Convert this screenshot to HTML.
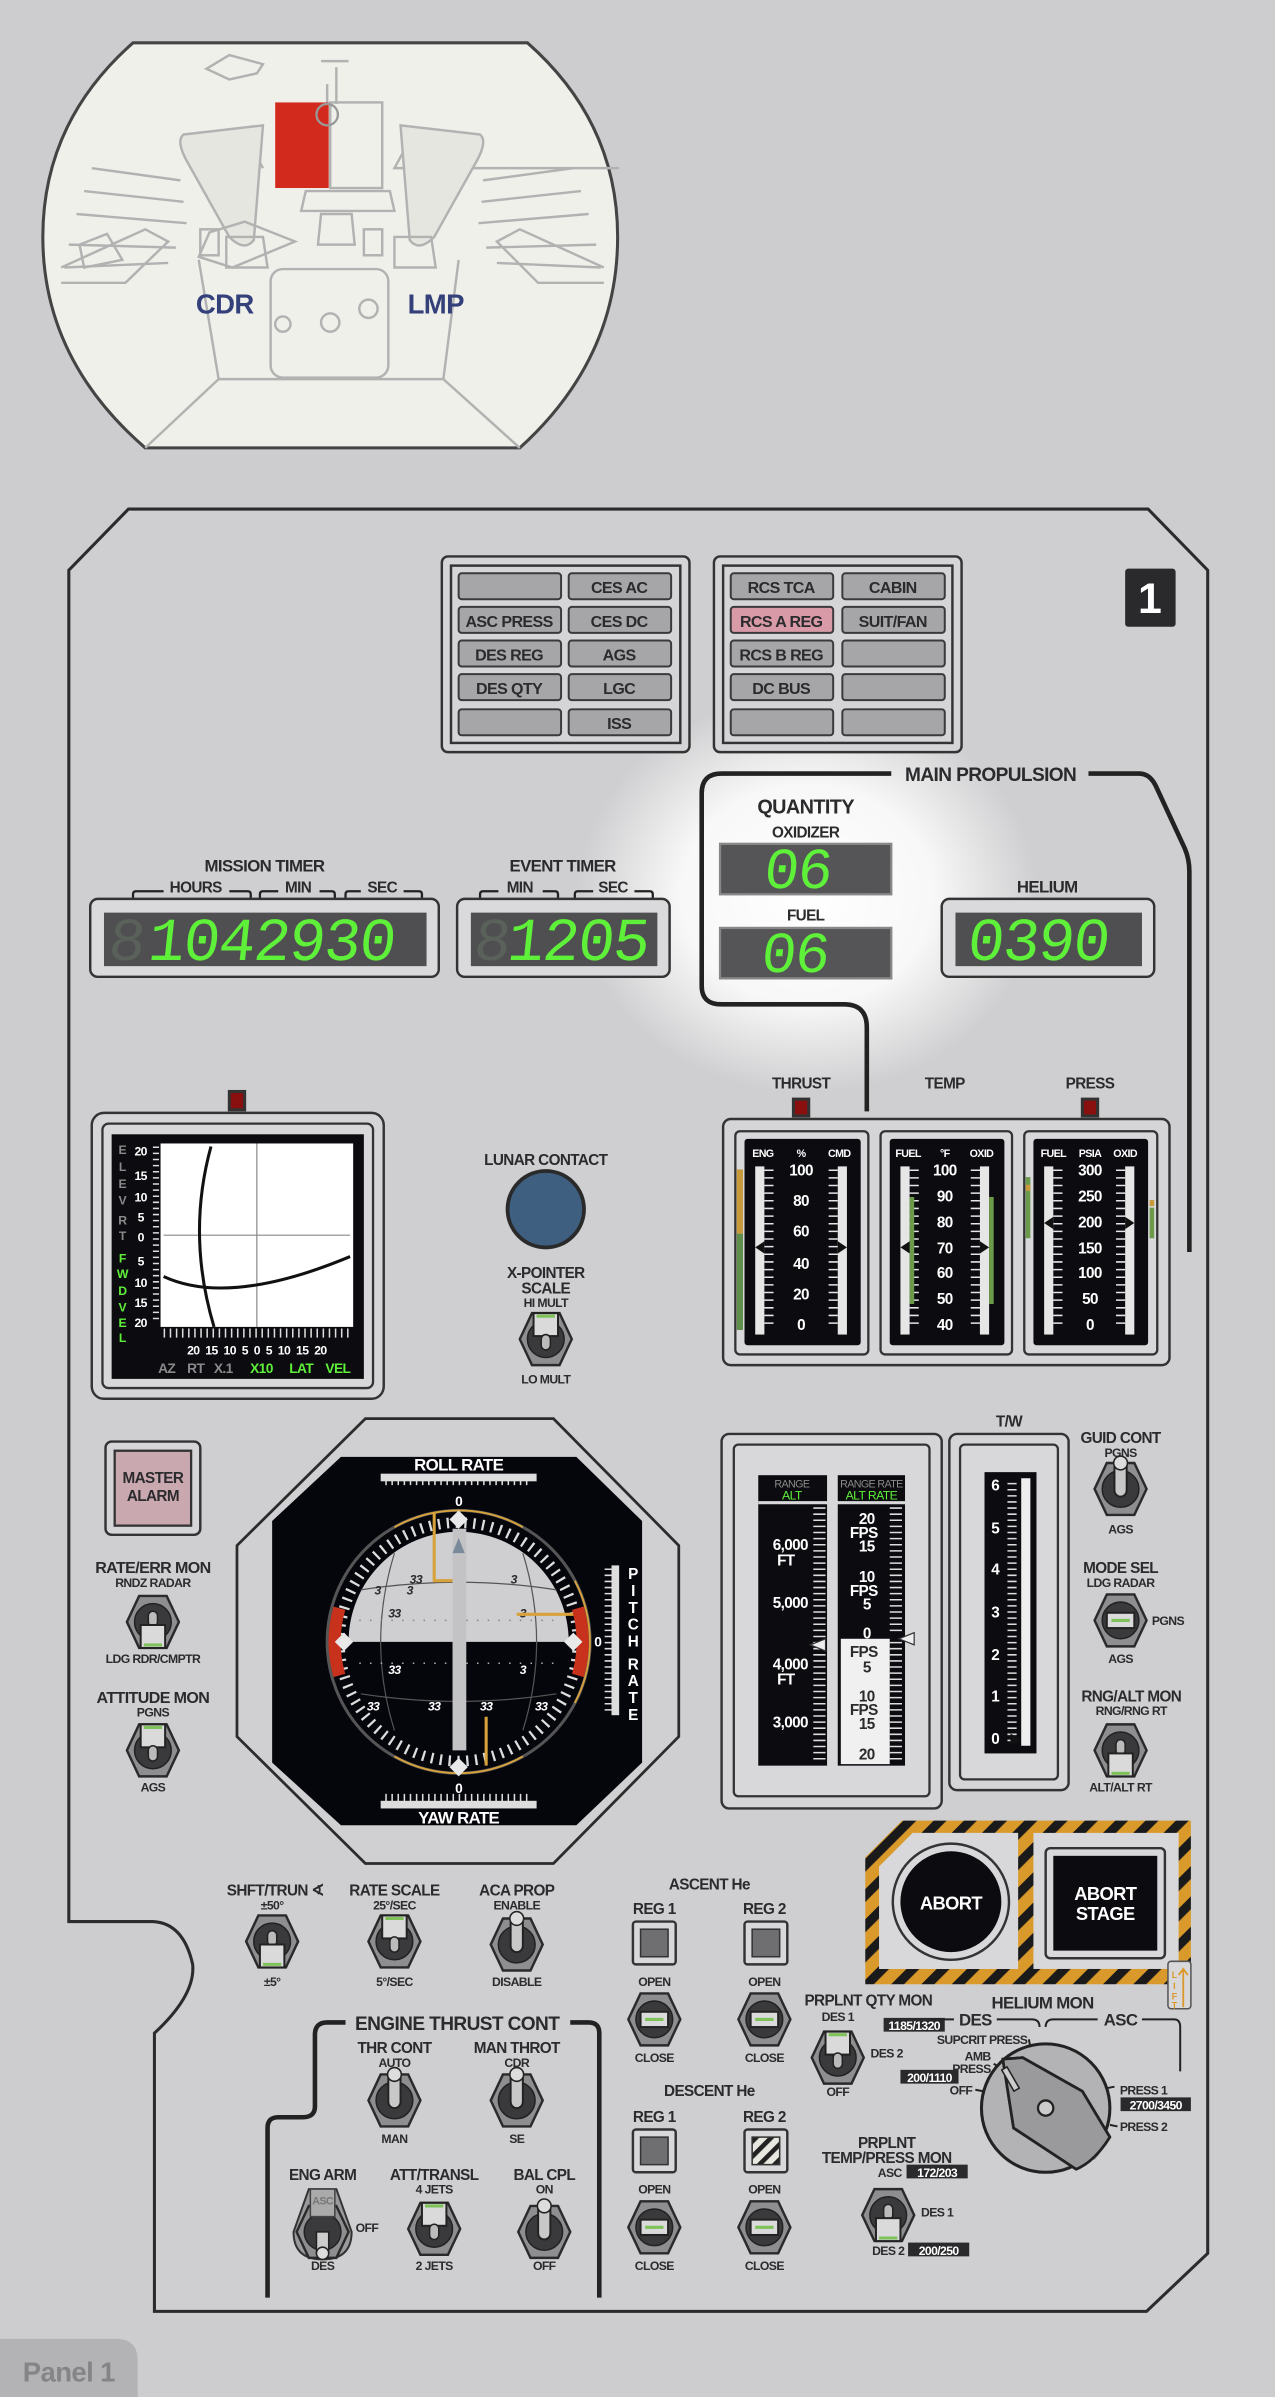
<!DOCTYPE html>
<html><head><meta charset="utf-8"><style>
html,body{margin:0;padding:0;background:#cdcdd0;}
svg{display:block}
text{font-family:"Liberation Sans Narrow","Liberation Sans",sans-serif;font-weight:bold;fill:#2b2b2d;text-anchor:middle;letter-spacing:-0.4px}
.w{fill:#fff}.g{fill:#5ff03a}.gr{fill:#8a8a8a}
.seg{font-family:"Liberation Mono",monospace;font-weight:normal;fill:#5ff03a;text-anchor:start;letter-spacing:-1px}
.btn{fill:#a6a6a8;stroke:#3a3a3a;stroke-width:1.3}
</style></head><body>
<svg width="1275" height="2397" viewBox="0 0 834 1568" xmlns="http://www.w3.org/2000/svg">
<defs>
<radialGradient id="glow"><stop offset="0" stop-color="#fff" stop-opacity="1"/><stop offset="0.55" stop-color="#fff" stop-opacity="0.85"/><stop offset="1" stop-color="#fff" stop-opacity="0"/></radialGradient>
<pattern id="haz" width="14" height="14" patternUnits="userSpaceOnUse" patternTransform="rotate(45)"><rect width="14" height="14" fill="#d99a2b"/><rect width="6" height="14" fill="#1a1a1a"/></pattern>
<pattern id="haz2" width="7" height="7" patternUnits="userSpaceOnUse" patternTransform="rotate(45)"><rect width="7" height="7" fill="#e8e8e0"/><rect width="3" height="7" fill="#222"/></pattern>
<g id="nut"><polygon points="-17,0 -9,-17 9,-17 17,0 9,17 -9,17" fill="#8e8e91" stroke="#2a2a2a" stroke-width="1.6"/><circle r="12" fill="#3a3a3c" stroke="#222"/></g>
<g id="tdn"><use href="#nut"/><rect x="-3" y="-7" width="6" height="10" rx="3" fill="#bbb" stroke="#222"/><rect x="-8" y="2" width="16" height="15" fill="#dadada" stroke="#222" stroke-width="1.3"/><line x1="-6" y1="15" x2="6" y2="15" stroke="#7fc25a" stroke-width="2"/></g>
<g id="tup"><use href="#nut"/><rect x="-8" y="-17" width="16" height="15" fill="#dadada" stroke="#222" stroke-width="1.3"/><line x1="-6" y1="-15" x2="6" y2="-15" stroke="#7fc25a" stroke-width="2"/><rect x="-3" y="-3" width="6" height="10" rx="3" fill="#bbb" stroke="#222"/></g>
<g id="tlv"><use href="#nut"/><rect x="-4" y="-19" width="8" height="24" rx="4" fill="#c8c8c8" stroke="#222" stroke-width="1.3"/><circle cy="-17" r="4.5" fill="#ddd" stroke="#222"/></g>
<g id="th"><use href="#nut"/><rect x="-9" y="-5" width="18" height="10" fill="#dadada" stroke="#222" stroke-width="1.3"/><line x1="-6" y1="0" x2="6" y2="0" stroke="#7fc25a" stroke-width="2"/></g>
</defs>
<rect width="834" height="1568" fill="#cdcdd0"/>

<!-- cockpit -->
<path d="M87,28 L345,28 Q404,80 404,155 Q404,235 340,293 L95,293 Q28,235 28,155 Q28,80 87,28 Z" fill="#f0f0eb" stroke="#444" stroke-width="2"/>
<g fill="none" stroke="#b2b2b2" stroke-width="1.6">
<path d="M95,293 L143,248 L290,248 L340,293"/>
<path d="M143,248 L130,170 M290,248 L300,170"/>
<path d="M270,88 L258,110 L405,110 M160,88 L172,110"/>
<path d="M55,125 L120,132 M60,110 L118,118 M50,140 L122,146 M45,160 L115,162 M42,175 L110,172"/>
<path d="M380,125 L315,132 M375,110 L316,118 M385,140 L313,146 M390,160 L318,162 M393,175 L325,172"/>
<path d="M120,88 L172,82 L166,157 Q160,165 150,155 L122,105 Q115,92 120,88 Z" fill="#e6e6e0"/>
<path d="M314,88 L262,82 L268,157 Q274,165 284,155 L312,105 Q319,92 314,88 Z" fill="#e6e6e0"/>
<path d="M137,152 L160,145 L193,158 L152,175 L130,168 Z M52,160 L70,153 L80,170 L55,175 Z"/>
<path d="M40,175 L95,150 L110,158 L82,185 L40,185"/>
<path d="M395,175 L340,150 L325,158 L352,185 L395,185"/>
<path d="M200,125 L255,125 L258,138 L197,138 Z M210,140 L230,140 L232,160 L208,160 Z"/>
<path d="M148,155 L172,155 L175,175 L148,175 Z M258,155 L282,155 L285,175 L258,175 Z"/>
<rect x="131" y="150" width="12" height="17"/><rect x="238" y="150" width="12" height="17"/>
<rect x="177" y="176" width="77" height="71" rx="8"/>
<circle cx="216" cy="211" r="6"/><circle cx="241" cy="202" r="6"/><circle cx="185" cy="212" r="5"/>
<path d="M135,45 L150,52 L168,48 L172,42 L150,36 Z"/>
<path d="M210,40 L228,40 M214,55 L214,68 M220,44 L220,68"/>
</g>
<rect x="180" y="67" width="35" height="56" fill="#d22a1c"/>
<rect x="216" y="67" width="34" height="56" fill="none" stroke="#b2b2b2" stroke-width="1.6"/>
<circle cx="214" cy="75" r="7" fill="none" stroke="#999" stroke-width="1.5"/>
<text x="147" y="205" style="font-family:'Liberation Sans',sans-serif;font-size:18px;fill:#34407a">CDR</text>
<text x="285" y="205" style="font-family:'Liberation Sans',sans-serif;font-size:18px;fill:#34407a">LMP</text>

<!-- panel outline -->
<path d="M45,373 L84,333 L751,333 L790,373 L790,1474 L750,1512 L101,1512 L101,1330 Q128,1305 126,1285 Q120,1258 100,1257 L45,1257 Z" fill="#cfcfd1" stroke="#2b2b2b" stroke-width="2"/>

<ellipse cx="528" cy="585" rx="150" ry="130" fill="url(#glow)"/>

<!-- caution panels -->
<g>
<rect x="289" y="364" width="162" height="128" rx="4" fill="#d5d5d7" stroke="#333" stroke-width="1.6"/>
<rect x="295" y="370" width="150" height="116" fill="none" stroke="#333" stroke-width="1.6"/>
<rect x="467" y="364" width="162" height="128" rx="4" fill="#d5d5d7" stroke="#333" stroke-width="1.6"/>
<rect x="473" y="370" width="150" height="116" fill="none" stroke="#333" stroke-width="1.6"/>
<g class="btn">
<rect x="300" y="375" width="67" height="17" rx="2"/><rect x="372" y="375" width="67" height="17" rx="2"/>
<rect x="300" y="397" width="67" height="17" rx="2"/><rect x="372" y="397" width="67" height="17" rx="2"/>
<rect x="300" y="419" width="67" height="17" rx="2"/><rect x="372" y="419" width="67" height="17" rx="2"/>
<rect x="300" y="441" width="67" height="17" rx="2"/><rect x="372" y="441" width="67" height="17" rx="2"/>
<rect x="300" y="464" width="67" height="17" rx="2"/><rect x="372" y="464" width="67" height="17" rx="2"/>
<rect x="478" y="375" width="67" height="17" rx="2"/><rect x="551" y="375" width="67" height="17" rx="2"/>
<rect x="478" y="397" width="67" height="17" rx="2" fill="#d99aa8"/><rect x="551" y="397" width="67" height="17" rx="2"/>
<rect x="478" y="419" width="67" height="17" rx="2"/><rect x="551" y="419" width="67" height="17" rx="2"/>
<rect x="478" y="441" width="67" height="17" rx="2"/><rect x="551" y="441" width="67" height="17" rx="2"/>
<rect x="478" y="464" width="67" height="17" rx="2"/><rect x="551" y="464" width="67" height="17" rx="2"/>
</g>
<g style="font-size:10.5px">
<text x="405" y="388">CES AC</text><text x="333" y="410">ASC PRESS</text><text x="405" y="410">CES DC</text>
<text x="333" y="432">DES REG</text><text x="405" y="432">AGS</text><text x="333" y="454">DES QTY</text><text x="405" y="454">LGC</text><text x="405" y="477">ISS</text>
<text x="511" y="388">RCS TCA</text><text x="584" y="388">CABIN</text><text x="511" y="410">RCS A REG</text><text x="584" y="410">SUIT/FAN</text>
<text x="511" y="432">RCS B REG</text><text x="511" y="454">DC BUS</text>
</g>
</g>
<rect x="736" y="372" width="33" height="38" rx="2" fill="#2a2a2c"/>
<text x="752" y="401" class="w" style="font-size:28px;fill:#fff">1</text>

<!-- main propulsion line -->
<path d="M583,506 L472,506 Q459,506 459,519 L459,645 Q459,657 472,657 L552,657 Q567,657 567,672 L567,727" fill="none" stroke="#222" stroke-width="3"/>
<path d="M712,506 L745,506 Q752,506 756,514 L775,555 Q778,562 778,570 L778,819" fill="none" stroke="#222" stroke-width="3"/>
<text x="648" y="511" style="font-size:12.5px">MAIN PROPULSION</text>
<text x="527" y="532" style="font-size:13px">QUANTITY</text>
<text x="527" y="548" style="font-size:10px">OXIDIZER</text>
<rect x="471" y="552" width="112" height="33" fill="#555557" stroke="#888" stroke-width="1.5"/>
<text x="500" y="581" class="seg" style="font-size:38px" transform="skewX(-6) translate(60,0)">06</text>
<text x="527" y="602" style="font-size:10px">FUEL</text>
<rect x="471" y="607" width="112" height="33" fill="#555557" stroke="#888" stroke-width="1.5"/>
<text x="500" y="636" class="seg" style="font-size:38px" transform="skewX(-6) translate(64,0)">06</text>

<!-- timers -->
<text x="173" y="570" style="font-size:11px">MISSION TIMER</text>
<text x="128" y="584" style="font-size:10px">HOURS</text><text x="195" y="584" style="font-size:10px">MIN</text><text x="250" y="584" style="font-size:10px">SEC</text>
<path d="M87,588 v-3 q0,-2 2,-2 h18 M150,583 h12 q2,0 2,2 v3 M170,588 v-3 q0,-2 2,-2 h10 M209,583 h8 q2,0 2,2 v3 M226,588 v-3 q0,-2 2,-2 h8 M264,583 h10 q2,0 2,2 v3" fill="none" stroke="#222" stroke-width="1.5"/>
<rect x="59" y="588" width="228" height="51" rx="5" fill="#dadadc" stroke="#333" stroke-width="1.6"/>
<rect x="68" y="597" width="211" height="35" fill="#4f4f51"/>
<text x="72" y="628" class="seg" style="font-size:40px;fill:#5a605a" transform="skewX(-6) translate(64,0)">8</text>
<text x="98" y="628" class="seg" style="font-size:40px" transform="skewX(-6) translate(64,0)">1042930</text>

<text x="368" y="570" style="font-size:11px">EVENT TIMER</text>
<text x="340" y="584" style="font-size:10px">MIN</text><text x="401" y="584" style="font-size:10px">SEC</text>
<path d="M314,588 v-3 q0,-2 2,-2 h10 M355,583 h8 q2,0 2,2 v3 M376,588 v-3 q0,-2 2,-2 h10 M415,583 h10 q2,0 2,2 v3" fill="none" stroke="#222" stroke-width="1.5"/>
<rect x="299" y="588" width="139" height="51" rx="5" fill="#dadadc" stroke="#333" stroke-width="1.6"/>
<rect x="308" y="597" width="122" height="35" fill="#4f4f51"/>
<text x="310" y="628" class="seg" style="font-size:40px;fill:#5a605a" transform="skewX(-6) translate(65,0)">8</text>
<text x="332" y="628" class="seg" style="font-size:40px" transform="skewX(-6) translate(65,0)">12</text>
<text x="378" y="628" class="seg" style="font-size:40px" transform="skewX(-6) translate(65,0)">05</text>

<text x="685" y="584" style="font-size:11px">HELIUM</text>
<rect x="616" y="588" width="139" height="51" rx="5" fill="#dadadc" stroke="#333" stroke-width="1.6"/>
<rect x="625" y="597" width="122" height="35" fill="#4f4f51"/>
<text x="630" y="628" class="seg" style="font-size:40px" transform="skewX(-6) translate(68,0)">0390</text>

<!-- thrust/temp/press -->
<text x="524" y="712" style="font-size:10px">THRUST</text><text x="618" y="712" style="font-size:10px">TEMP</text><text x="713" y="712" style="font-size:10px">PRESS</text>
<rect x="518" y="718" width="12" height="13" fill="#333"/><rect x="520" y="720" width="8" height="9" fill="#8a1010"/>
<rect x="707" y="718" width="12" height="13" fill="#333"/><rect x="709" y="720" width="8" height="9" fill="#8a1010"/>
<rect x="473" y="732" width="292" height="161" rx="5" fill="#d5d5d7" stroke="#333" stroke-width="1.6"/>
<g fill="#d8d8da" stroke="#333" stroke-width="1.5">
<rect x="481" y="740" width="87" height="146" rx="3"/><rect x="576" y="740" width="86" height="146" rx="3"/><rect x="670" y="740" width="87" height="146" rx="3"/>
</g>
<g fill="#0b0b10">
<rect x="487" y="745" width="76" height="135" rx="2"/><rect x="582" y="745" width="75" height="135" rx="2"/><rect x="676" y="745" width="75" height="135" rx="2"/>
</g>
<g style="font-size:7px">
<text x="499" y="757" class="w">ENG</text><text x="524" y="757" class="w">%</text><text x="549" y="757" class="w">CMD</text>
<text x="594" y="757" class="w">FUEL</text><text x="618" y="757" class="w">°F</text><text x="642" y="757" class="w">OXID</text>
<text x="689" y="757" class="w">FUEL</text><text x="713" y="757" class="w">PSIA</text><text x="736" y="757" class="w">OXID</text>
</g>
<g fill="#e6e6e6">
<rect x="494" y="763" width="6" height="110"/><rect x="548" y="763" width="6" height="110"/>
<rect x="589" y="763" width="6" height="110"/><rect x="641" y="763" width="6" height="110"/>
<rect x="683" y="763" width="6" height="110"/><rect x="736" y="763" width="6" height="110"/>
</g>
<g stroke="#e6e6e6" stroke-dasharray="1 4">
<line x1="503" y1="765" x2="503" y2="870" stroke-width="6"/><line x1="545" y1="765" x2="545" y2="870" stroke-width="6"/>
<line x1="598" y1="765" x2="598" y2="870" stroke-width="6"/><line x1="638" y1="765" x2="638" y2="870" stroke-width="6"/>
<line x1="692" y1="765" x2="692" y2="870" stroke-width="6"/><line x1="733" y1="765" x2="733" y2="870" stroke-width="6"/>
</g>
<rect x="482" y="765" width="4" height="42" fill="#c89a3a"/><rect x="482" y="807" width="4" height="63" fill="#5f8f4a"/>
<rect x="595" y="783" width="3" height="70" fill="#6a9a4a"/><rect x="647" y="783" width="3" height="70" fill="#6a9a4a"/>
<rect x="671" y="770" width="3" height="40" fill="#6a9a4a"/><rect x="752" y="790" width="3" height="20" fill="#6a9a4a"/>
<rect x="671" y="775" width="3" height="4" fill="#c89a3a"/><rect x="752" y="785" width="3" height="4" fill="#c89a3a"/>
<g style="font-size:10px">
<text x="524" y="769" class="w">100</text><text x="524" y="789" class="w">80</text><text x="524" y="809" class="w">60</text><text x="524" y="830" class="w">40</text><text x="524" y="850" class="w">20</text><text x="524" y="870" class="w">0</text>
<text x="618" y="769" class="w">100</text><text x="618" y="786" class="w">90</text><text x="618" y="803" class="w">80</text><text x="618" y="820" class="w">70</text><text x="618" y="836" class="w">60</text><text x="618" y="853" class="w">50</text><text x="618" y="870" class="w">40</text>
<text x="713" y="769" class="w">300</text><text x="713" y="786" class="w">250</text><text x="713" y="803" class="w">200</text><text x="713" y="820" class="w">150</text><text x="713" y="836" class="w">100</text><text x="713" y="853" class="w">50</text><text x="713" y="870" class="w">0</text>
</g>
<g fill="#111"><path d="M494,816 l6,-4 v8 z M554,816 l-6,-4 v8 z M589,816 l6,-4 v8 z M647,816 l-6,-4 v8 z M683,800 l6,-4 v8 z M742,800 l-6,-4 v8 z"/></g>

<!-- x-pointer -->
<rect x="149" y="713" width="12" height="14" fill="#333"/><rect x="151" y="715" width="8" height="10" fill="#8a1010"/>
<rect x="60" y="728" width="191" height="187" rx="8" fill="#d5d5d7" stroke="#333" stroke-width="1.6"/>
<rect x="67" y="735" width="177" height="173" rx="4" fill="#d8d8da" stroke="#333" stroke-width="1.5"/>
<rect x="73" y="742" width="165" height="160" fill="#0b0b10"/>
<rect x="105" y="748" width="126" height="120" fill="#fff"/>
<line x1="168" y1="748" x2="168" y2="868" stroke="#888" stroke-width="0.8"/><line x1="107" y1="808" x2="229" y2="808" stroke="#888" stroke-width="0.8"/>
<path d="M138,750 Q122,808 140,868" fill="none" stroke="#111" stroke-width="2"/>
<path d="M107,835 Q150,855 229,822" fill="none" stroke="#111" stroke-width="2"/>
<line x1="102" y1="750" x2="102" y2="866" stroke="#ddd" stroke-width="4" stroke-dasharray="1 3"/>
<line x1="107" y1="872" x2="229" y2="872" stroke="#ddd" stroke-width="6" stroke-dasharray="1 3"/>
<g style="font-size:8px;font-weight:normal">
<text x="80" y="755" class="gr">E</text><text x="80" y="766" class="gr">L</text><text x="80" y="777" class="gr">E</text><text x="80" y="788" class="gr">V</text><text x="80" y="801" class="gr">R</text><text x="80" y="811" class="gr">T</text>
<text x="80" y="826" class="g">F</text><text x="80" y="836" class="g">W</text><text x="80" y="847" class="g">D</text><text x="80" y="858" class="g">V</text><text x="80" y="868" class="g">E</text><text x="80" y="878" class="g">L</text>
</g>
<g style="font-size:8px;font-weight:normal">
<text x="92" y="756" class="w">20</text><text x="92" y="772" class="w">15</text><text x="92" y="786" class="w">10</text><text x="92" y="799" class="w">5</text><text x="92" y="812" class="w">0</text><text x="92" y="828" class="w">5</text><text x="92" y="842" class="w">10</text><text x="92" y="855" class="w">15</text><text x="92" y="868" class="w">20</text>
<text x="168" y="886" class="w" style="word-spacing:2px">20 15 10 5 0 5 10 15 20</text>
</g>
<g style="font-size:9px;font-weight:normal"><text x="109" y="898" class="gr">AZ</text><text x="128" y="898" class="gr">RT</text><text x="146" y="898" class="gr">X.1</text><text x="171" y="898" class="g">X10</text><text x="197" y="898" class="g">LAT</text><text x="221" y="898" class="g">VEL</text></g>

<text x="357" y="762" style="font-size:10px">LUNAR CONTACT</text>
<circle cx="357" cy="791" r="25" fill="#3f5f80" stroke="#2a2a2a" stroke-width="2.5"/>
<text x="357" y="836" style="font-size:10px">X-POINTER</text><text x="357" y="846" style="font-size:10px">SCALE</text><text x="357" y="855" style="font-size:8px">HI MULT</text>
<use href="#tup" x="357" y="876"/>
<text x="357" y="905" style="font-size:8px">LO MULT</text>

<!-- master alarm & left toggles -->
<rect x="69" y="943" width="62" height="61" rx="4" fill="#d5d5d7" stroke="#333" stroke-width="1.6"/>
<rect x="75" y="949" width="50" height="49" fill="#c9a8b0" stroke="#333" stroke-width="1.5"/>
<text x="100" y="970" style="font-size:10px">MASTER</text><text x="100" y="982" style="font-size:10px">ALARM</text>
<text x="100" y="1029" style="font-size:10.5px">RATE/ERR MON</text><text x="100" y="1038" style="font-size:8px">RNDZ RADAR</text>
<use href="#tdn" x="100" y="1061"/>
<text x="100" y="1088" style="font-size:8px">LDG RDR/CMPTR</text>
<text x="100" y="1114" style="font-size:10.5px">ATTITUDE MON</text><text x="100" y="1123" style="font-size:8px">PGNS</text>
<use href="#tup" x="100" y="1145"/>
<text x="100" y="1172" style="font-size:8px">AGS</text>

<!-- FDAI -->
<polygon points="239,928 362,928 444,1011 444,1136 362,1219 239,1219 155,1136 155,1011" fill="#d0d0d2" stroke="#2b2b2b" stroke-width="1.8"/>
<polygon points="223,953 377,953 420,995 420,1153 377,1194 223,1194 178,1153 178,995" fill="#05050c"/>
<text x="300" y="962" class="w" style="font-size:11px">ROLL RATE</text>
<rect x="249" y="964" width="102" height="5" fill="#ddd"/>
<line x1="252" y1="969" x2="348" y2="969" stroke="#ddd" stroke-width="5" stroke-dasharray="1 3"/>
<text x="300" y="985" class="w" style="font-size:9px">0</text>
<rect x="249" y="1178" width="102" height="5" fill="#ddd"/>
<line x1="252" y1="1176" x2="348" y2="1176" stroke="#ddd" stroke-width="5" stroke-dasharray="1 3"/>
<text x="300" y="1173" class="w" style="font-size:9px">0</text>
<text x="300" y="1193" class="w" style="font-size:11px">YAW RATE</text>
<rect x="400" y="1024" width="5" height="98" fill="#ddd"/>
<line x1="398" y1="1026" x2="398" y2="1120" stroke="#ddd" stroke-width="5" stroke-dasharray="1 3"/>
<text x="391" y="1077" class="w" style="font-size:9px">0</text>
<g style="font-size:10px"><text x="414" y="1033" class="w">P</text><text x="414" y="1044" class="w">I</text><text x="414" y="1055" class="w">T</text><text x="414" y="1066" class="w">C</text><text x="414" y="1077" class="w">H</text><text x="414" y="1092" class="w">R</text><text x="414" y="1103" class="w">A</text><text x="414" y="1114" class="w">T</text><text x="414" y="1125" class="w">E</text></g>
<circle cx="300" cy="1074" r="86" fill="#05050c" stroke="#555" stroke-width="2"/>
<circle cx="300" cy="1074" r="78" fill="none" stroke="#ddd" stroke-width="7" stroke-dasharray="1.5 4.3"/>
<path d="M300,1002 A72,72 0 0 1 372,1074 L228,1074 A72,72 0 0 1 300,1002 Z" fill="#cfcfd2"/>
<g fill="none" stroke="#555" stroke-width="0.8">
<path d="M258,1016 Q240,1074 258,1132 M342,1016 Q360,1074 342,1132 M236,1040 Q300,1030 364,1040 M236,1108 Q300,1118 364,1108"/>
</g>
<line x1="235" y1="1060" x2="365" y2="1060" stroke="#888" stroke-width="1" stroke-dasharray="1 6"/>
<line x1="235" y1="1088" x2="365" y2="1088" stroke="#aaa" stroke-width="1" stroke-dasharray="1 6"/>
<g style="font-size:8px;font-weight:normal;font-style:italic">
<text x="272" y="1036">33</text><text x="258" y="1058">33</text><text x="336" y="1036">3</text><text x="342" y="1058">3</text>
<text x="258" y="1095" class="w">33</text><text x="342" y="1095" class="w">3</text><text x="244" y="1119" class="w">33</text><text x="284" y="1119" class="w">33</text><text x="318" y="1119" class="w">33</text><text x="354" y="1119" class="w">33</text>
<text x="247" y="1043">3</text><text x="268" y="1043">3</text></g>
<rect x="296" y="1000" width="9" height="145" fill="#c3c3c6"/>
<polygon points="300,1006 296,1016 304,1016" fill="#7a8a9a"/>
<path d="M284,990 V1034 H296 M338,1056 H382 M318,1123 V1155" fill="none" stroke="#d8a23a" stroke-width="2"/>
<path d="M258,999 A86,86 0 0 1 342,999 M258,1149 A86,86 0 0 0 342,1149 M376,1034 A86,86 0 0 1 376,1114" fill="none" stroke="#d8a23a" stroke-width="1.2"/>
<path d="M222,1052 A80,80 0 0 0 222,1096" fill="none" stroke="#c8321c" stroke-width="8"/>
<path d="M378,1052 A80,80 0 0 1 378,1096" fill="none" stroke="#c8321c" stroke-width="8"/>
<g fill="#e8e8e8"><path d="M300,988 l6,6 l-6,6 l-6,-6 z M300,1150 l6,6 l-6,6 l-6,-6 z M219,1074 l6,-6 l6,6 l-6,6 z M381,1074 l-6,-6 l-6,6 l6,6 z"/></g>

<!-- range/alt -->
<rect x="472" y="938" width="144" height="245" rx="5" fill="#d5d5d7" stroke="#333" stroke-width="1.6"/>
<rect x="480" y="945" width="128" height="230" rx="3" fill="#d8d8da" stroke="#333" stroke-width="1.5"/>
<rect x="496" y="965" width="45" height="190" fill="#0b0b10"/><rect x="548" y="965" width="44" height="190" fill="#0b0b10"/>
<line x1="496" y1="983" x2="592" y2="983" stroke="#d8d8da" stroke-width="2"/>
<text x="518" y="973" class="gr" style="font-size:7px;font-weight:normal">RANGE</text><text x="518" y="981" class="g" style="font-size:8px;font-weight:normal">ALT</text>
<text x="570" y="973" class="gr" style="font-size:7px;font-weight:normal">RANGE RATE</text><text x="570" y="981" class="g" style="font-size:8px;font-weight:normal">ALT RATE</text>
<line x1="536" y1="986" x2="536" y2="1153" stroke="#ddd" stroke-width="8" stroke-dasharray="1 3"/>
<rect x="550" y="1072" width="32" height="82" fill="#f0f0f0"/>
<line x1="586" y1="986" x2="586" y2="1070" stroke="#ddd" stroke-width="8" stroke-dasharray="1 3"/>
<line x1="586" y1="1074" x2="586" y2="1153" stroke="#ddd" stroke-width="8" stroke-dasharray="1 3"/>
<g style="font-size:10px;font-weight:normal">
<text x="517" y="1014" class="w">6,000</text><text x="514" y="1024" class="w">FT</text><text x="517" y="1052" class="w">5,000</text>
<text x="517" y="1092" class="w">4,000</text><text x="514" y="1102" class="w">FT</text><text x="517" y="1130" class="w">3,000</text>
<text x="567" y="997" class="w">20</text><text x="565" y="1006" class="w">FPS</text><text x="567" y="1015" class="w">15</text><text x="567" y="1035" class="w">10</text><text x="565" y="1044" class="w">FPS</text><text x="567" y="1053" class="w">5</text><text x="567" y="1072" class="w">0</text>
</g>
<g style="font-size:10px;font-weight:normal"><text x="565" y="1084">FPS</text><text x="567" y="1094">5</text><text x="567" y="1113">10</text><text x="565" y="1122">FPS</text><text x="567" y="1131">15</text><text x="567" y="1151">20</text></g>
<path d="M540,1072 l-10,4 l10,4 z M588,1072 l10,-4 v8 z" fill="#eee" stroke="#333" stroke-width="0.8"/>

<!-- T/W -->
<text x="660" y="933" style="font-size:10px">T/W</text>
<rect x="621" y="938" width="78" height="233" rx="5" fill="#d5d5d7" stroke="#333" stroke-width="1.6"/>
<rect x="628" y="945" width="64" height="219" rx="3" fill="#d8d8da" stroke="#333" stroke-width="1.5"/>
<rect x="644" y="963" width="34" height="184" fill="#0b0b10"/>
<rect x="668" y="967" width="6" height="175" fill="#eee"/>
<line x1="662" y1="970" x2="662" y2="1140" stroke="#ddd" stroke-width="6" stroke-dasharray="1 3"/>
<g style="font-size:10px;font-weight:normal"><text x="651" y="975" class="w">6</text><text x="651" y="1003" class="w">5</text><text x="651" y="1030" class="w">4</text><text x="651" y="1058" class="w">3</text><text x="651" y="1086" class="w">2</text><text x="651" y="1113" class="w">1</text><text x="651" y="1141" class="w">0</text></g>
<path d="M668,1138 l-7,-4 v8 z" fill="#111"/>

<!-- right toggles -->
<text x="733" y="944" style="font-size:10px">GUID CONT</text><text x="733" y="953" style="font-size:8px">PGNS</text>
<use href="#tlv" x="733" y="974"/><text x="733" y="1003" style="font-size:8px">AGS</text>
<text x="733" y="1029" style="font-size:10px">MODE SEL</text><text x="733" y="1038" style="font-size:8px">LDG RADAR</text>
<use href="#th" x="733" y="1060"/><text x="764" y="1063" style="font-size:8px">PGNS</text><text x="733" y="1088" style="font-size:8px">AGS</text>
<text x="740" y="1113" style="font-size:10px">RNG/ALT MON</text><text x="740" y="1122" style="font-size:8px">RNG/RNG RT</text>
<use href="#tdn" x="733" y="1145"/><text x="733" y="1172" style="font-size:8px">ALT/ALT RT</text>

<!-- abort -->
<path d="M590,1191 L779,1191 L779,1298 L566,1298 L566,1215 Z" fill="url(#haz)"/>
<path d="M597,1199 L666,1199 L666,1288 L575,1288 L575,1221 Z" fill="#d8d8da"/>
<rect x="676" y="1199" width="95" height="89" fill="#d8d8da"/>
<circle cx="622" cy="1244" r="38" fill="#d8d8da" stroke="#333" stroke-width="1.6"/>
<circle cx="622" cy="1244" r="33" fill="#0b0b10"/>
<text x="622" y="1249" class="w" style="font-size:12px">ABORT</text>
<rect x="684" y="1209" width="78" height="72" rx="3" fill="#d8d8da" stroke="#333" stroke-width="1.6"/>
<rect x="689" y="1214" width="68" height="62" fill="#0b0b10"/>
<text x="723" y="1243" class="w" style="font-size:12px">ABORT</text><text x="723" y="1256" class="w" style="font-size:12px">STAGE</text>
<rect x="764" y="1283" width="15" height="31" rx="2" fill="#d8d8da" stroke="#555"/>
<text x="768" y="1294" style="font-size:6px;fill:#d99a2b">L</text><text x="768" y="1301" style="font-size:6px;fill:#d99a2b">I</text><text x="768" y="1308" style="font-size:6px;fill:#d99a2b">F</text><text x="768" y="1314" style="font-size:6px;fill:#d99a2b">T</text>
<path d="M774,1313 V1288 M771,1292 l3,-4 l3,4" fill="none" stroke="#d99a2b" stroke-width="1.2"/>

<!-- bottom-left toggles -->
<text x="180" y="1240" style="font-size:10px">SHFT/TRUN ∢</text><text x="178" y="1249" style="font-size:8px">±50°</text>
<use href="#tdn" x="178" y="1270"/><text x="178" y="1299" style="font-size:8px">±5°</text>
<text x="258" y="1240" style="font-size:10px">RATE SCALE</text><text x="258" y="1249" style="font-size:8px">25°/SEC</text>
<use href="#tup" x="258" y="1270"/><text x="258" y="1299" style="font-size:8px">5°/SEC</text>
<text x="338" y="1240" style="font-size:10px">ACA PROP</text><text x="338" y="1249" style="font-size:8px">ENABLE</text>
<use href="#tlv" x="338" y="1272"/><text x="338" y="1299" style="font-size:8px">DISABLE</text>

<!-- engine thrust cont -->
<path d="M226,1323 H214 Q206,1323 206,1331 V1378 Q206,1385 198,1385 H182 Q175,1385 175,1392 V1503" fill="none" stroke="#222" stroke-width="3"/>
<path d="M373,1323 H385 Q392,1323 392,1330 V1503" fill="none" stroke="#222" stroke-width="3"/>
<text x="299" y="1328" style="font-size:12.5px">ENGINE THRUST CONT</text>
<text x="258" y="1343" style="font-size:10px">THR CONT</text><text x="258" y="1352" style="font-size:8px">AUTO</text>
<use href="#tlv" x="258" y="1374"/><text x="258" y="1402" style="font-size:8px">MAN</text>
<text x="338" y="1343" style="font-size:10px">MAN THROT</text><text x="338" y="1352" style="font-size:8px">CDR</text>
<use href="#tlv" x="338" y="1374"/><text x="338" y="1402" style="font-size:8px">SE</text>
<text x="211" y="1426" style="font-size:10px">ENG ARM</text>
<path d="M202,1432 L220,1432 L230,1460 Q230,1478 211,1478 Q192,1478 192,1460 Z" fill="#9a9a9c" stroke="#333" stroke-width="1.3"/>
<use href="#nut" x="211" y="1460"/>
<rect x="203" y="1432" width="16" height="18" fill="#aaa" stroke="#444"/>
<text x="211" y="1442" style="font-size:7px;fill:#777">ASC</text>
<rect x="207" y="1460" width="8" height="14" fill="#ccc" stroke="#222"/><circle cx="211" cy="1474" r="4" fill="#ddd" stroke="#222"/>
<text x="240" y="1460" style="font-size:8px">OFF</text><text x="211" y="1485" style="font-size:8px">DES</text>
<text x="284" y="1426" style="font-size:10px">ATT/TRANSL</text><text x="284" y="1435" style="font-size:8px">4 JETS</text>
<use href="#tup" x="284" y="1458"/><text x="284" y="1485" style="font-size:8px">2 JETS</text>
<text x="356" y="1426" style="font-size:10px">BAL CPL</text><text x="356" y="1435" style="font-size:8px">ON</text>
<use href="#tlv" x="356" y="1460"/><text x="356" y="1485" style="font-size:8px">OFF</text>

<!-- He -->
<text x="464" y="1236" style="font-size:10px">ASCENT He</text>
<text x="428" y="1252" style="font-size:10px">REG 1</text><text x="500" y="1252" style="font-size:10px">REG 2</text>
<rect x="414" y="1257" width="28" height="28" rx="2" fill="#d8d8da" stroke="#333" stroke-width="1.6"/><rect x="419" y="1262" width="18" height="18" fill="#6f6f71" stroke="#333"/>
<rect x="487" y="1257" width="28" height="28" rx="2" fill="#d8d8da" stroke="#333" stroke-width="1.6"/><rect x="492" y="1262" width="18" height="18" fill="#6f6f71" stroke="#333"/>
<text x="428" y="1299" style="font-size:8px">OPEN</text><text x="500" y="1299" style="font-size:8px">OPEN</text>
<use href="#th" x="428" y="1321"/><use href="#th" x="500" y="1321"/>
<text x="428" y="1349" style="font-size:8px">CLOSE</text><text x="500" y="1349" style="font-size:8px">CLOSE</text>
<text x="464" y="1371" style="font-size:10px">DESCENT He</text>
<text x="428" y="1388" style="font-size:10px">REG 1</text><text x="500" y="1388" style="font-size:10px">REG 2</text>
<rect x="414" y="1393" width="28" height="28" rx="2" fill="#d8d8da" stroke="#333" stroke-width="1.6"/><rect x="419" y="1398" width="18" height="18" fill="#6f6f71" stroke="#333"/>
<rect x="487" y="1393" width="28" height="28" rx="2" fill="#d8d8da" stroke="#333" stroke-width="1.6"/><rect x="492" y="1398" width="18" height="18" fill="url(#haz2)" stroke="#333"/>
<text x="428" y="1435" style="font-size:8px">OPEN</text><text x="500" y="1435" style="font-size:8px">OPEN</text>
<use href="#th" x="428" y="1457"/><use href="#th" x="500" y="1457"/>
<text x="428" y="1485" style="font-size:8px">CLOSE</text><text x="500" y="1485" style="font-size:8px">CLOSE</text>

<!-- prplnt qty mon -->
<text x="568" y="1312" style="font-size:10px">PRPLNT QTY MON</text>
<text x="548" y="1322" style="font-size:8px">DES 1</text>
<use href="#tup" x="548" y="1346"/>
<text x="580" y="1346" style="font-size:8px">DES 2</text><text x="548" y="1371" style="font-size:8px">OFF</text>
<rect x="578" y="1320" width="40" height="9" fill="#2a2a2c"/><text x="598" y="1328" class="w" style="font-size:8px">1185/1320</text>

<!-- helium mon -->
<text x="682" y="1314" style="font-size:11px">HELIUM MON</text>
<path d="M608,1321 H624 M652,1321 H675 Q680,1321 680,1326 M684,1326 Q684,1321 689,1321 H718 M747,1321 H768 Q772,1321 772,1326 V1355" fill="none" stroke="#222" stroke-width="1.3"/>
<text x="638" y="1325" style="font-size:11px">DES</text><text x="733" y="1325" style="font-size:11px">ASC</text>
<text x="672" y="1337" style="font-size:8px;text-anchor:end">SUPCRIT PRESS</text>
<text x="648" y="1348" style="font-size:8px;text-anchor:end">AMB</text><text x="648" y="1356" style="font-size:8px;text-anchor:end">PRESS</text>
<rect x="589" y="1354" width="38" height="9" fill="#2a2a2c"/><text x="608" y="1362" class="w" style="font-size:8px">200/1110</text>
<text x="636" y="1370" style="font-size:8px;text-anchor:end">OFF</text>
<path d="M673,1334 L674,1339 M650,1350 L655,1353 M638,1367 L643,1368 M724,1366 L729,1365 M726,1390 L731,1391" stroke="#222" stroke-width="1.3"/>
<circle cx="684" cy="1379" r="42" fill="#b3b3b5" stroke="#222" stroke-width="2"/>
<path d="M656,1347 Q665,1360 684,1379 L716,1413 Q722,1406 726,1398 L708,1368 L669,1346 Z" fill="#9a9a9c"/>
<path d="M656,1347 L669,1346 L708,1368 L726,1398 M656,1347 L663,1392 L704,1419" fill="none" stroke="#222" stroke-width="1.8"/>
<path d="M663,1392 L704,1419 Q716,1414 726,1398 L708,1368 L669,1346 L656,1347 Z" fill="#9a9a9c" stroke="#222" stroke-width="1.8"/>
<rect x="659" y="1352" width="4" height="16" transform="rotate(-30 661 1360)" fill="#ccc" stroke="#222"/>
<circle cx="684" cy="1379" r="5" fill="#ccc" stroke="#222" stroke-width="1.5"/>
<text x="748" y="1370" style="font-size:8px">PRESS 1</text>
<rect x="733" y="1372" width="46" height="9" fill="#2a2a2c"/><text x="756" y="1380" class="w" style="font-size:8px">2700/3450</text>
<text x="748" y="1394" style="font-size:8px">PRESS 2</text>

<text x="580" y="1405" style="font-size:10px">PRPLNT</text><text x="580" y="1415" style="font-size:10px">TEMP/PRESS MON</text>
<text x="582" y="1424" style="font-size:8px">ASC</text>
<rect x="593" y="1416" width="40" height="9" fill="#2a2a2c"/><text x="613" y="1424" class="w" style="font-size:8px">172/203</text>
<use href="#tdn" x="581" y="1449"/>
<text x="613" y="1450" style="font-size:8px">DES 1</text><text x="581" y="1475" style="font-size:8px">DES 2</text>
<rect x="594" y="1467" width="40" height="9" fill="#2a2a2c"/><text x="614" y="1475" class="w" style="font-size:8px">200/250</text>

<path d="M0,1530 H76 Q90,1530 90,1544 V1568 H0 Z" fill="#b3b3b6"/>
<text x="45" y="1558" style="font-family:'Liberation Sans',sans-serif;font-size:18px;fill:#858588">Panel 1</text>
</svg>
</body></html>
